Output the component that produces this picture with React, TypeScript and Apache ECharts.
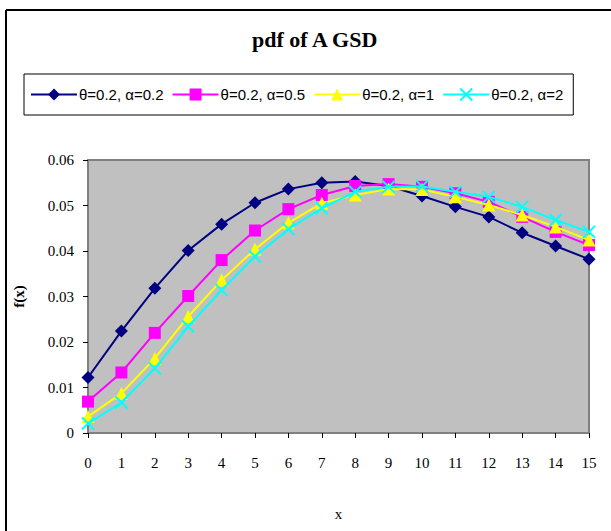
import React, { useEffect, useRef } from "react";
import * as echarts from "echarts";

const xCategories = ["0","1","2","3","4","5","6","7","8","9","10","11","12","13","14","15"];
const seriesNames = ["θ=0.2, α=0.2", "θ=0.2, α=0.5", "θ=0.2, α=1", "θ=0.2, α=2"];
const alpha02 = [0.0122,0.0224,0.0318,0.0401,0.0459,0.0506,0.0536,0.0550,0.0553,0.0543,0.0521,0.0497,0.0475,0.0440,0.0411,0.0382];
const alpha05 = [0.0069,0.0133,0.0220,0.0301,0.0380,0.0445,0.0492,0.0523,0.0543,0.0547,0.0541,0.0527,0.0508,0.0475,0.0442,0.0413];
const alpha1 = [0.0036,0.0087,0.0164,0.0256,0.0336,0.0404,0.0462,0.0505,0.0523,0.0536,0.0535,0.0519,0.0501,0.0479,0.0453,0.0424];
const alpha2 = [0.0021,0.0067,0.0142,0.0234,0.0314,0.0388,0.0448,0.0494,0.0530,0.0541,0.0542,0.0530,0.0519,0.0497,0.0468,0.0442];
const yTicks = ["0","0.01","0.02","0.03","0.04","0.05","0.06"];

const colors = ["#000080", "#FF00FF", "#FFFF00", "#00FFFF"];
const symbols = ["diamond", "rect", "triangle", "path://M0,0L10,10M10,0L0,10"];
const symbolSizes = [13, 12, 13, 12];

export default function App() {
  const ref = useRef<HTMLDivElement>(null);
  useEffect(() => {
    if (!ref.current) return;
    const chart = echarts.init(ref.current, undefined, { renderer: "svg" });
    const data = [alpha02, alpha05, alpha1, alpha2];
    const serif = "Liberation Serif";
    chart.setOption({
      animation: false,
      backgroundColor: "#ffffff",
      title: {
        text: "pdf of A GSD",
        left: 247,
        top: 23,
        textStyle: { fontFamily: serif, fontWeight: "bold", fontSize: 22, color: "#000" },
      },
      graphic: [
        {
          type: "line",
          shape: { x1: 6, y1: 10, x2: 611, y2: 10 },
          style: { stroke: "#000", lineWidth: 2 },
          silent: true,
        },
        {
          type: "line",
          shape: { x1: 6, y1: 10, x2: 6, y2: 531 },
          style: { stroke: "#000", lineWidth: 2 },
          silent: true,
        },
      ],
      legend: {
        left: 24,
        top: 74,
        padding: [13, 10, 13, 6],
        itemWidth: 46,
        itemHeight: 15,
        itemGap: 8,
        borderColor: "#000",
        borderWidth: 1,
        backgroundColor: "#fff",
        textStyle: { fontFamily: "Liberation Sans", fontSize: 15, color: "#000", padding: [0, 0, 0, -3] },
        data: seriesNames,
      },
      grid: {
        left: 88,
        top: 160,
        right: 22,
        bottom: 98,
        outerBoundsMode: "none",
        containLabel: false,
        show: true,
        backgroundColor: "#C0C0C0",
        borderColor: "#808080",
        borderWidth: 2,
      },
      xAxis: {
        type: "category",
        data: xCategories,
        boundaryGap: false,
        name: "x",
        nameLocation: "middle",
        nameGap: 73,
        nameTextStyle: { fontFamily: serif, fontSize: 15, color: "#000" },
        axisLine: { lineStyle: { color: "#808080", width: 2 } },
        axisTick: { show: true, length: 5, lineStyle: { color: "#000" } },
        axisLabel: { fontFamily: serif, fontSize: 15, color: "#000", margin: 22, interval: 0 },
        splitLine: { show: false },
      },
      yAxis: {
        type: "value",
        min: 0,
        max: 0.06,
        interval: 0.01,
        name: "f(x)",
        nameLocation: "middle",
        nameGap: 62,
        nameTextStyle: { fontFamily: serif, fontSize: 15, fontWeight: "bold", color: "#000" },
        axisLine: { show: true, lineStyle: { color: "#808080", width: 2 } },
        axisTick: { show: true, length: 5, lineStyle: { color: "#000" } },
        axisLabel: {
          fontFamily: serif,
          fontSize: 15,
          color: "#000",
          margin: 14,
          formatter: (v: number) => yTicks[Math.round(v * 100)] ?? String(v),
        },
        splitLine: { show: false },
      },
      series: seriesNames.map((name, i) => ({
        name,
        type: "line",
        data: data[i],
        symbol: symbols[i],
        symbolSize: symbolSizes[i],
        showAllSymbol: true,
        color: colors[i],
        lineStyle: { color: colors[i], width: 2 },
        itemStyle: i === 3
          ? { color: colors[i], borderColor: colors[i], borderWidth: 2 }
          : { color: colors[i] },
        z: 2 + i,
      })),
    });
    return () => chart.dispose();
  }, []);
  return (
    <div
      ref={ref}
      style={{ position: "fixed", left: 0, top: 0, width: 611, height: 531 }}
    />
  );
}
